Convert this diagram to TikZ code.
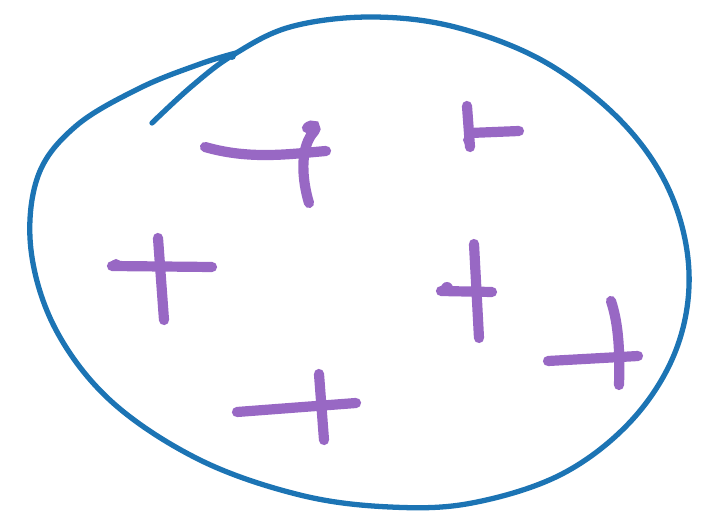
\documentclass[tikz,border=0pt]{standalone}
\definecolor{penblue}{RGB}{28,116,180}
\definecolor{penpurple}{RGB}{152,104,196}
\tikzset{
  loopline/.style={penblue, line width=1.5pt, line cap=round, line join=round},
  tick/.style={penpurple, line width=2.9pt, line cap=round}
}
\begin{document}
\begin{tikzpicture}[x=0.01cm, y=-0.01cm]
    \useasboundingbox (0,0) rectangle (702,512);
    % Closed loop
    \draw[loopline] plot[smooth, tension=0.6] coordinates {
      (152,123) (192,86) (233,55) (290,27) (370,17) (455,27) (545,62)
      (622,122) (670,192) (689,272) (676,350) (632,420) (562,474)
      (472,503) (390,507) (300,495) (200,460) (112,402) (56,330)
      (31,250) (38,176) (76,126) (140,88) (200,64) (236,53)};
    \fill[penblue] (232,56) circle (4);
    % Crosses
    \draw[tick] (205,147) .. controls (250,160) and (290,154) .. (326,151);
    \draw[tick] (307,128) .. controls (312,123) and (320,126) .. (312,134)
      .. controls (300,150) and (302,180) .. (309,203);
    \draw[tick] (467,106) -- (470,147);
    \fill[penpurple] (468,140) circle (5);
    \draw[tick] (470,133) -- (519,131);
    \draw[tick] (112,266) -- (212,267);
    \fill[penpurple] (116,264) circle (5);
    \draw[tick] (158,238) -- (164,320);
    \draw[tick] (474,244) -- (479,338);
    \draw[tick] (441,291) -- (492,292);
    \fill[penpurple] (447,288) circle (6);
    \draw[tick] (611,301) .. controls (619,325) and (620,355) .. (619,385);
    \draw[tick] (548,361) -- (638,356);
    \draw[tick] (237,412) -- (356,403);
    \draw[tick] (319,374) -- (324,440);
\end{tikzpicture}
\end{document}
